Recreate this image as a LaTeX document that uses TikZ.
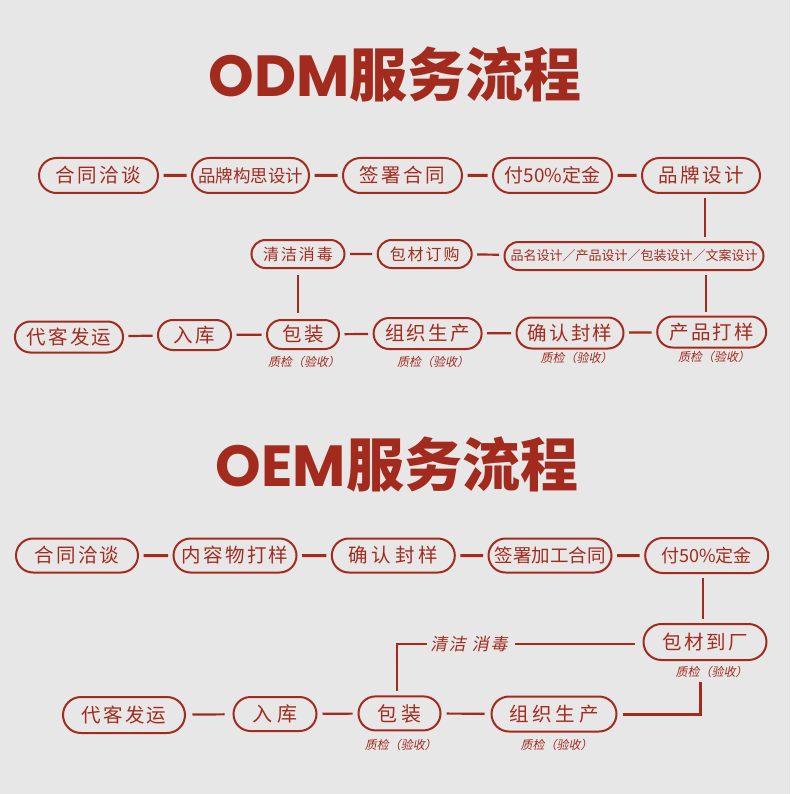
\documentclass[tikz,border=0pt]{standalone}
\usepackage{fontspec}
\usepackage{tikz}
\usetikzlibrary{shapes.misc,positioning}
\newfontfamily\cjk{Noto Sans CJK SC}[LetterSpace=12]
\newfontfamily\cjkplain{Noto Sans CJK SC}
\newfontfamily\cjkslant{Noto Sans CJK SC}[FakeSlant=0.2]
\newfontfamily\poppins{Poppins}
\definecolor{brick}{HTML}{A32B1D}
\definecolor{paper}{HTML}{E7E7E7}

\begin{document}
\begin{tikzpicture}[
  x=1pt, y=-1pt,
  pill/.style={shape=rounded rectangle, draw=brick, line width=2pt,
               text=brick, inner sep=0pt, minimum height=34pt,
               font=\cjk\fontsize{19.5}{20}\selectfont},
  tight/.style={font=\cjkplain\fontsize{17.5}{18}\selectfont},
  qc/.style={text=brick, inner sep=1pt,
             font=\cjkslant\fontsize{12}{13}\selectfont},
  ttl/.style={text=brick, inner sep=0pt,
              font=\fontsize{58}{60}\selectfont\bfseries},
  link/.style={draw=brick, line width=2.2pt,
               shorten <=4.5pt, shorten >=4.5pt},
  thick link/.style={link, line width=3pt},
]
  \useasboundingbox[fill=paper] (0,0) rectangle (790,794);

  % ODM
  \node[ttl] (odm) at (395,74) {{\poppins ODM}{\cjkplain 服务流程}};

  \node[pill,minimum width=119pt,minimum height=35pt] (a1) at (98.5,175.5) {合同洽谈};
  \node[pill,tight,minimum width=117pt,minimum height=35pt] (a2) at (250.5,175.5) {品牌构思设计};
  \node[pill,minimum width=119pt,minimum height=35pt] (a3) at (402.5,175.5) {签署合同};
  \node[pill,tight,minimum width=119pt,minimum height=35pt,
        font=\cjkplain\fontsize{19}{20}\selectfont] (a4) at (552.5,175.5) {付50\%定金};
  \node[pill,minimum width=118pt,minimum height=35pt] (a5) at (701,175.5) {品牌设计};

  \node[pill,minimum width=93pt,minimum height=28pt,
        font=\cjk\fontsize{16}{17}\selectfont] (b1) at (298,254) {清洁消毒};
  \node[pill,minimum width=94pt,minimum height=28pt,
        font=\cjk\fontsize{16}{17}\selectfont] (b2) at (424.7,254) {包材订购};
  \node[pill,minimum width=259pt,minimum height=28pt,
        font=\cjkplain\fontsize{13}{14}\selectfont] (b3) at (634,256)
    {品名设计／产品设计／包装设计／文案设计};

  \node[pill,minimum width=108pt,minimum height=31pt] (c1) at (69,337) {代客发运};
  \node[pill,minimum width=73pt,minimum height=30pt] (c2) at (194.5,335) {入库};
  \node[pill,minimum width=72pt,minimum height=29pt] (c3) at (303,334.5) {包装};
  \node[pill,minimum width=108pt,minimum height=31pt] (c4) at (427.6,333.5) {组织生产};
  \node[pill,minimum width=107pt,minimum height=31pt] (c5) at (570,333) {确认封样};
  \node[pill,minimum width=109pt,minimum height=31pt] (c6) at (711.7,332) {产品打样};

  \node[qc] (q3) at (304,362) {质检（验收）};
  \node[qc] (q4) at (433,362) {质检（验收）};
  \node[qc] (q5) at (576.7,358) {质检（验收）};
  \node[qc] (q6) at (714,356.7) {质检（验收）};

  \draw[thick link] (a1) -- (a2);
  \draw[thick link] (a2) -- (a3);
  \draw[thick link] (a3) -- (a4);
  \draw[thick link] (a4) -- (a5);
  \draw[link] ([xshift=4pt]a5.south) -- ([xshift=4pt]a5.south |- b3.north);
  \draw[link] (b3) -- (b2);
  \draw[link] (b2) -- (b1);
  \draw[link,shorten <=6pt,shorten >=6pt] (b1.south) -- (b1.south |- c3.north);
  \draw[link,shorten <=4pt,shorten >=4pt] ([xshift=-6pt]c6.north |- b3.south) -- ([xshift=-6pt]c6.north);
  \draw[link] (c6) -- (c5);
  \draw[link] (c5) -- (c4);
  \draw[link] (c4) -- (c3);
  \draw[link] (c3) -- (c2);
  \draw[link] (c2) -- (c1);

  % OEM
  \node[ttl] (oem) at (397,464.5) {{\poppins OEM}{\cjkplain 服务流程}};

  \node[pill,minimum width=122pt] (d1) at (77,555.5) {合同洽谈};
  \node[pill,minimum width=123pt] (d2) at (235,555.5) {内容物打样};
  \node[pill,minimum width=123pt,
        font=\cjkplain\addfontfeature{LetterSpace=20}\fontsize{19.5}{20}\selectfont] (d3) at (393.3,555.5) {确认封样};
  \node[pill,tight,minimum width=123pt,
        font=\cjkplain\fontsize{18.5}{19}\selectfont] (d4) at (550,555.5) {签署加工合同};
  \node[pill,minimum width=123pt,minimum height=35pt,
        font=\cjkplain\fontsize{18}{19}\selectfont] (d5) at (706.7,555.5) {付50\%定金};

  \node[pill,minimum width=123pt,minimum height=36pt] (d6) at (705,642) {包材到厂};
  \node[qc] (q7) at (711.7,671.7) {质检（验收）};
  \node[text=brick, inner sep=1pt,
        font=\cjkslant\addfontfeature{LetterSpace=10}\fontsize{17}{18}\selectfont] (t1) at (469,644)
    {清洁\hspace{6pt}消毒};

  \node[pill,minimum width=122pt,minimum height=36pt] (e1) at (124,715) {代客发运};
  \node[pill,minimum width=83pt,
        font=\cjkplain\addfontfeature{LetterSpace=25}\fontsize{20}{21}\selectfont] (e2) at (275,714) {入库};
  \node[pill,minimum width=82pt,
        font=\cjkplain\addfontfeature{LetterSpace=18}\fontsize{20}{21}\selectfont] (e3) at (399.5,713.4) {包装};
  \node[pill,minimum width=125pt,minimum height=35pt,
        font=\cjkplain\addfontfeature{LetterSpace=20}\fontsize{19.5}{20}\selectfont] (e4) at (554,714) {组织生产};

  \node[qc] (q8) at (400.8,745) {质检（验收）};
  \node[qc] (q9) at (556.7,745) {质检（验收）};

  \draw[thick link] (d1) -- (d2);
  \draw[thick link] (d2) -- (d3);
  \draw[thick link] (d3) -- (d4);
  \draw[thick link] (d4) -- (d5);
  \draw[link,shorten <=4pt,shorten >=4pt] ([xshift=-3.5pt]d5.south) -- ([xshift=-3.5pt]d5.south |- d6.north);
  \draw[link,shorten <=8pt,shorten >=6pt] (d6.west |- t1) -- (t1.east);
  \draw[link,shorten <=2pt,shorten >=4pt] (t1.west) -| ([xshift=-2.5pt]e3.north);
  \draw[thick link,shorten <=3pt,shorten >=5pt] ([xshift=-5pt]d6.south |- q7.south) |- (e4.east);
  \draw[link,shorten <=6pt,shorten >=5pt] (e4) -- (e3);
  \draw[link,shorten <=5pt,shorten >=5pt] (e3) -- (e2);
  \draw[link,shorten <=8pt,shorten >=6.5pt] (e2) -- (e1);
\end{tikzpicture}
\end{document}
